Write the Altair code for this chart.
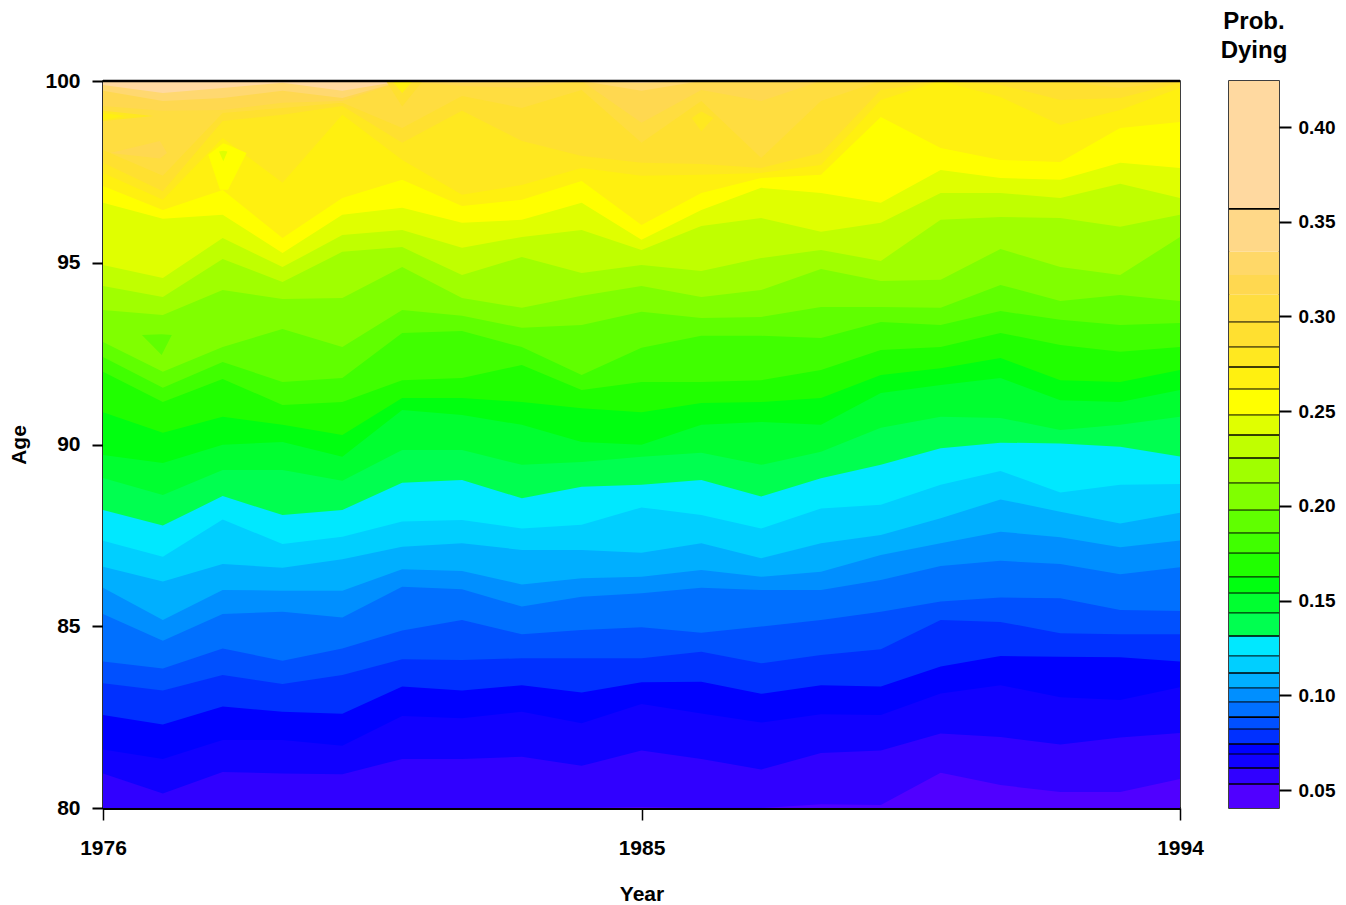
import altair as alt
import pandas as pd

years = list(range(1976, 1995))

band_colors = ["#5000FF", "#3000FF", "#1000FF", "#0000FF", "#0030FF", "#0050FF", "#0070FF", "#008FFF", "#00AFFF",
               "#00CFFF", "#00E8FF", "#00FF50", "#00FF30", "#00FF10", "#20FF00", "#40FF00", "#60FF00", "#80FF00",
               "#A0FF00", "#C0FF00", "#E0FF00", "#FFFF00", "#FFF010", "#FFE820", "#FFE030", "#FFDD40", "#FFD850",
               "#FFD870", "#FFD9A0"]

# Age of each contour boundary per year, from the lowest level upward
b01 = [80,80,80,80,80,80,80,80,80,80.03,80,80,80.1,80.08,80.97,80.63,80.44,80.44,80.80]
b02 = [80.95,80.40,80.99,80.95,80.93,81.35,81.35,81.41,81.16,81.58,81.35,81.06,81.51,81.58,82.05,81.95,81.75,81.94,82.06]
b03 = [81.61,81.35,81.87,81.87,81.71,82.53,82.47,82.65,82.33,82.86,82.60,82.35,82.58,82.56,83.15,83.38,83.05,82.97,83.32]
b04 = [82.56,82.30,82.79,82.65,82.59,83.34,83.23,83.38,83.18,83.46,83.47,83.14,83.38,83.34,83.89,84.18,84.16,84.15,84.03]
b05 = [83.43,83.23,83.66,83.41,83.66,84.09,84.07,84.12,84.12,84.12,84.30,83.98,84.21,84.37,85.17,85.12,84.81,84.78,84.78]
b06 = [84.03,83.84,84.39,84.05,84.39,84.88,85.17,84.78,84.90,84.97,84.82,84.99,85.17,85.40,85.68,85.79,85.77,85.45,85.42]
b07 = [85.34,84.60,85.34,85.40,85.24,86.09,86.02,85.54,85.81,85.91,86.06,86.00,86.00,86.27,86.66,86.80,86.71,86.43,86.62]
b08 = [86.06,85.17,86.00,85.98,85.98,86.57,86.52,86.15,86.32,86.36,86.55,86.36,86.50,86.96,87.28,87.60,87.45,87.17,87.36]
b09 = [86.64,86.23,86.71,86.61,86.84,87.19,87.28,87.10,87.10,87.02,87.28,86.87,87.28,87.51,87.97,88.49,88.15,87.83,88.12]
b10 = [87.35,86.91,87.94,87.26,87.46,87.88,87.92,87.69,87.79,88.27,88.06,87.69,88.24,88.34,88.89,89.27,88.68,88.89,88.91]
b11 = [88.20,87.77,88.58,88.06,88.20,88.95,89.02,88.52,88.84,88.89,89.02,88.57,89.07,89.44,89.90,90.05,90.03,89.94,89.67]
b12 = [89.08,88.61,89.30,89.30,89.00,89.85,89.85,89.44,89.52,89.66,89.77,89.44,89.80,90.46,90.76,90.73,90.40,90.54,90.76]
b13 = [89.71,89.49,89.99,90.07,89.66,90.95,90.81,90.54,90.07,89.99,90.54,90.62,90.54,91.42,91.64,91.83,91.22,91.17,91.50]
b14 = [90.89,90.32,90.76,90.54,90.26,91.28,91.28,91.17,91.00,90.89,91.14,91.17,91.28,91.91,92.10,92.38,91.77,91.72,92.05]
b15 = [92.00,91.17,91.80,91.09,91.17,91.77,91.83,92.19,91.50,91.72,91.72,91.77,92.05,92.60,92.68,93.07,92.74,92.55,92.68]
b16 = [92.41,91.56,92.27,91.72,91.83,93.07,93.12,92.68,91.91,92.66,92.99,92.99,92.93,93.37,93.29,93.67,93.43,93.29,93.34]
b17 = [92.82,92.00,92.68,93.18,92.68,93.70,93.54,93.21,93.29,93.65,93.48,93.51,93.78,93.78,93.76,94.39,93.95,94.11,93.95]
b18 = [93.70,93.56,94.25,94.00,94.03,94.88,94.03,93.76,94.09,94.36,94.06,94.25,94.83,94.50,94.53,95.38,94.88,94.66,95.71]
b19 = [94.36,94.06,95.10,94.47,95.30,95.43,94.66,95.16,94.72,94.94,94.77,95.13,95.35,95.05,96.18,96.26,96.23,95.99,96.32]
b20 = [94.94,94.58,95.68,94.88,95.76,95.90,95.41,95.71,95.90,95.35,96.01,96.23,95.85,96.10,96.92,96.92,96.78,97.17,96.78]
b21 = [96.65,96.21,96.32,95.27,96.32,96.51,96.10,96.18,96.65,95.63,96.45,97.06,96.92,96.65,97.55,97.33,97.28,97.75,97.61]
b22 = [97.11,96.45,97.00,95.68,96.78,97.28,96.56,96.73,97.25,96.04,96.92,97.33,97.42,99.01,98.16,97.83,97.77,98.71,98.87]
b23 = [97.47,96.73,98.43,97.20,99.07,97.83,96.87,97.14,97.61,97.39,97.42,97.47,97.69,99.48,100,99.56,98.79,99.20,99.81]
b24 = [97.75,96.97,98.90,99.07,99.31,98.30,99.18,98.35,97.94,97.75,97.72,97.61,98.02,99.75,100,99.89,99.48,99.53,99.95]
b25 = [98.10,97.39,99.12,99.26,99.40,98.71,99.59,99.26,99.75,98.30,99.45,97.88,99.45,100,100,100,100,99.81,100]
b26 = [99.31,99.18,99.20,99.40,99.45,100,99.86,99.81,100,98.85,99.75,99.45,100,100,100,100,100,100,100]
b27 = [99.73,99.45,99.53,99.73,99.53,100,99.95,99.97,100,99.73,100,100,100,100,100,100,100,100,100]
b28 = [99.89,99.67,99.81,99.95,99.73,100,100,100,100,99.95,100,100,100,100,100,100,100,100,100]

boundaries = [b01, b02, b03, b04, b05, b06, b07, b08, b09, b10, b11, b12, b13, b14, b15, b16, b17, b18, b19, b20,
              b21, b22, b23, b24, b25, b26, b27, b28]

# Closed contour islands: colour, years, lower age, upper age
islands = [
    ("#FFD850", [1976.12, 1976.95, 1977.07], [98.02, 97.87, 98.02], [98.02, 98.35, 98.02]),
    ("#FFE820", [1976, 1976.84], [98.90, 99.04], [99.18, 99.04]),
    ("#FFF010", [1976, 1976.37], [98.93, 99.04], [99.12, 99.04]),
    ("#FFFF00", [1977.76, 1977.955, 1978.01, 1978.09, 1978.40], [97.97, 97.01, 97.01, 97.01, 98.02], [97.97, 98.22, 98.29, 98.24, 98.02]),
    ("#E0FF00", [1977.94, 1978.01, 1978.08], [98.06, 97.79, 98.06], [98.06, 98.08, 98.06]),
    ("#60FF00", [1976.65, 1976.98, 1977.15], [93.01, 92.46, 93.01], [93.01, 93.03, 93.01]),
    ("#FFE820", [1985.84, 1986.0, 1986.2], [98.98, 98.62, 98.98], [98.98, 99.16, 98.98]),
    ("#FFE030", [1980.74, 1981.0, 1981.33], [99.97, 99.30, 99.97], [100, 100, 100]),
    ("#FFF010", [1980.85, 1981.0, 1981.16], [99.97, 99.67, 99.97], [100, 100, 100]),
]

legend_colors = band_colors[:27] + ["#FFD868", "#FFD888", "#FFD9A0"]
legend_levels = [0.0405, 0.0532, 0.0616, 0.0690, 0.0743, 0.0822, 0.0885, 0.0965, 0.1039, 0.1118, 0.1208, 0.1313,
                 0.1435, 0.1540, 0.1625, 0.1751, 0.1857, 0.1978, 0.2121, 0.2253, 0.2374, 0.2480, 0.2617, 0.2733,
                 0.2839, 0.2971, 0.3114, 0.3219, 0.3341, 0.3568, 0.4243]
thin_lines = [0.0690, 0.0822, 0.0965, 0.1039, 0.1208, 0.1435, 0.1540, 0.1625, 0.1751, 0.1857, 0.1978, 0.2121, 0.2480,
              0.2617, 0.2839, 0.2971]
thick_lines = [0.0532, 0.0616, 0.0743, 0.0885, 0.1118, 0.1313, 0.2253, 0.2374, 0.2733, 0.3568]
legend_ticks = [0.05, 0.10, 0.15, 0.20, 0.25, 0.30, 0.35, 0.40]

FONT = "Liberation Sans"
x_enc = alt.X("year:Q", scale=alt.Scale(domain=[1976, 1994], nice=False, zero=False),
              axis=alt.Axis(values=[1976, 1985, 1994], format="d", title="Year", tickSize=12, tickWidth=1.5,
                            domainWidth=3, labelPadding=17, titlePadding=25, grid=False, labelOverlap=False,
                            labelFlush=False))
y_enc = alt.Y("low:Q", scale=alt.Scale(domain=[80, 100], nice=False, zero=False),
              axis=alt.Axis(values=[80, 85, 90, 95, 100], format="d", title="Age", tickSize=11, tickWidth=2,
                            domainWidth=1.5, labelPadding=12, titlePadding=15, grid=False, labelFlush=False))


def area(color, xs, lows, highs):
    df = pd.DataFrame({"year": xs, "low": lows, "high": highs})
    return alt.Chart(df).mark_area(color=color, clip=True, interpolate="linear", opacity=1).encode(
        x=x_enc, y=y_enc, y2=alt.Y2("high:Q"))


layers = [area(band_colors[0], [1976, 1994], [80, 80], [100, 100])]
for color, boundary in zip(band_colors[1:], boundaries):
    layers.append(area(color, years, boundary, [100] * len(years)))
for color, xs, lows, highs in islands:
    layers.append(area(color, xs, lows, highs))

top_line = alt.Chart(pd.DataFrame({"low": [100]})).mark_rule(color="black", strokeWidth=2.5).encode(y=y_enc)

main = alt.layer(*layers, top_line).properties(width=1077, height=727)

legend_df = pd.DataFrame({"low": legend_levels[:-1], "high": legend_levels[1:], "color": legend_colors})
legend_y = alt.Y("low:Q", scale=alt.Scale(domain=[0.0405, 0.4243], nice=False, zero=False),
                 axis=alt.Axis(values=legend_ticks, format=".2f", orient="right", title=None, tickSize=12,
                               tickWidth=2, domain=False, labelPadding=7, labelFontSize=19, grid=False,
                               labelFlush=False))
rects = alt.Chart(legend_df).mark_rect().encode(
    y=legend_y,
    y2=alt.Y2("high:Q"),
    color=alt.Color("color:N", scale=None),
)
thin = alt.Chart(pd.DataFrame({"low": thin_lines})).mark_rule(color="black", strokeWidth=1).encode(y=legend_y)
thick = alt.Chart(pd.DataFrame({"low": thick_lines})).mark_rule(color="black", strokeWidth=1.6).encode(y=legend_y)
legend = alt.layer(rects, thin, thick).properties(
    width=50, height=727,
    title=alt.TitleParams(text=["Prob.", "Dying"], fontSize=24, fontWeight="bold", font=FONT, color="black",
                          lineHeight=29, anchor="middle", offset=18),
)

chart = (
    alt.hconcat(main, legend, spacing=14)
    .properties(padding={"left": 0, "top": 1, "right": 0, "bottom": 0}, background="white")
    .configure_view(stroke="black", strokeWidth=1.5)
    .configure_axis(labelFont=FONT, titleFont=FONT, labelFontSize=21, titleFontSize=21, labelFontWeight="bold",
                    titleFontWeight="bold", labelColor="black", titleColor="black", tickColor="black",
                    domainColor="black")
)
chart.save("out.html", embed_options={"renderer": "svg", "actions": False})
